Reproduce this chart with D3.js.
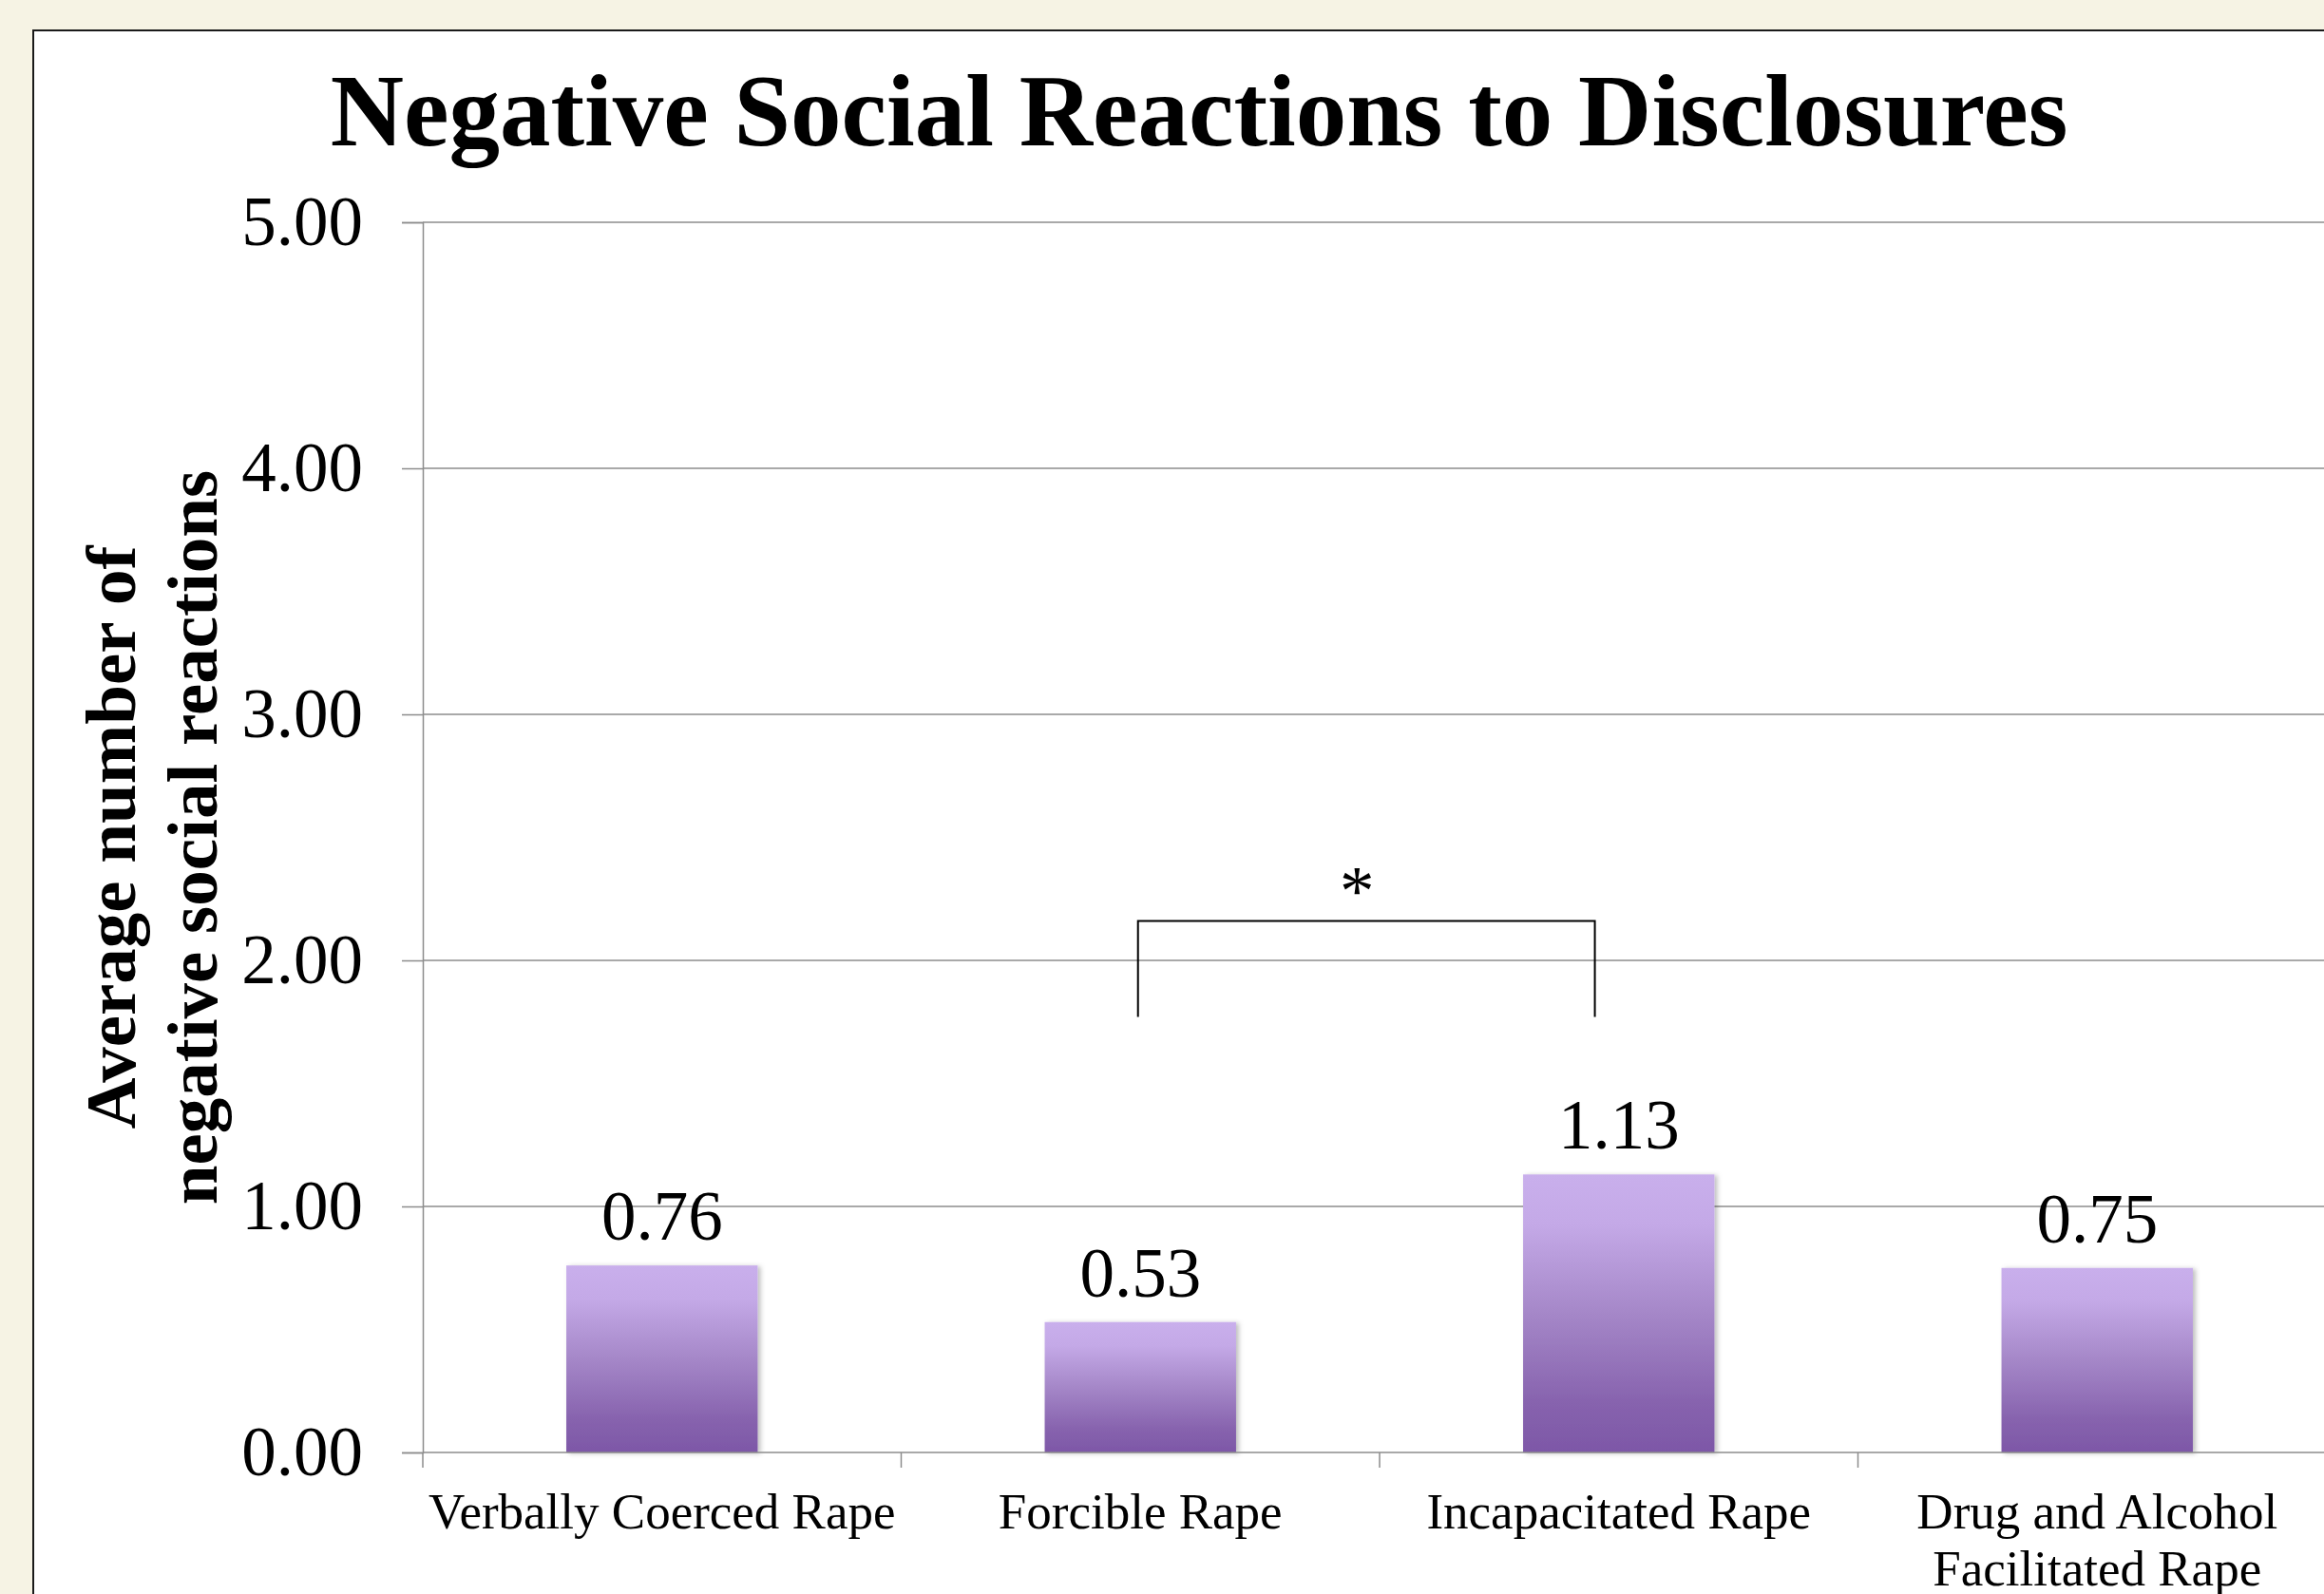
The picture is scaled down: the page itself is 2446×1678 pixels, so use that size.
<!DOCTYPE html>
<html>
<head>
<meta charset="utf-8">
<script src="https://cdn.jsdelivr.net/npm/d3@7"></script>
<style>
body{margin:0;background:#f6f3e4;}
svg{display:block;}
text{font-family:"Liberation Serif","Times New Roman",serif;fill:#000;}
</style>
</head>
<body>
<svg id="svg" width="2446" height="1678"></svg>
<script>
var categories=['Verbally Coerced Rape','Forcible Rape','Incapacitated Rape','Drug and Alcohol Facilitated Rape'];
var catLines=[['Verbally Coerced Rape'],['Forcible Rape'],['Incapacitated Rape'],['Drug and Alcohol','Facilitated Rape']];
var values=[0.76,0.53,1.13,0.75];
var yTicks=[0,1,2,3,4,5];
var sigPair=['Forcible Rape','Incapacitated Rape'];
var sigLevels=[1.77,2.16];
var sigLabel='*';

var svg=d3.select('#svg');

// chart box
svg.append('rect')
.attr('x',35).attr('y',32)
.attr('width',2600).attr('height',1800)
.attr('fill','#fff')
.attr('stroke','#1a1a1a')
.attr('stroke-width',2);

svg.append('text')
.attr('x',1262).attr('y',153)
.attr('text-anchor','middle')
.style('font-size','107px')
.style('font-weight','bold')
.text('Negative Social Reactions to Disclosures');

var left=445, bandW=503.5;
var xscale=d3.scaleBand()
.domain(categories)
.range([left,left+bandW*categories.length])
.padding(0);

var yscale=d3.scaleLinear()
.domain([0,5])
.range([1529,234]);

// gradient + shadow
var defs=svg.append('defs');
var grad=defs.append('linearGradient')
.attr('id','barGrad')
.attr('x1',0).attr('y1',0).attr('x2',0).attr('y2',1);
[['0%','#c9afec'],['18%','#c4a9e7'],['50%','#a587c8'],['82%','#8763ae'],['100%','#7d57a7']].forEach(function(s){
	grad.append('stop').attr('offset',s[0]).attr('stop-color',s[1]);
});
var f=defs.append('filter').attr('id','shadow')
.attr('x','-10%').attr('y','-10%').attr('width','130%').attr('height','120%');
f.append('feDropShadow')
.attr('dx',3).attr('dy',1)
.attr('stdDeviation',2.5)
.attr('flood-color','#000')
.attr('flood-opacity',0.25);

// gridlines
svg.append('g')
.selectAll('line').data(yTicks.filter(function(d){return d>0;})).enter()
.append('line')
.attr('x1',left).attr('x2',xscale.range()[1])
.attr('y1',function(d){return yscale(d);})
.attr('y2',function(d){return yscale(d);})
.attr('stroke','#8c8c8c')
.attr('stroke-width',1.5);

// y axis
var yaxis=svg.append('g')
.attr('transform','translate('+left+',0)')
.call(d3.axisLeft(yscale)
	.tickValues(yTicks)
	.tickFormat(d3.format('.2f'))
	.tickSize(22)
	.tickPadding(41));
yaxis.selectAll('line,path').attr('stroke','#8c8c8c').attr('stroke-width',1.5);
yaxis.selectAll('text')
.style('font-size','73px')
.style('font-family','"Liberation Serif","Times New Roman",serif')
.attr('fill','#000');

// bars
var barW=bandW*0.4;
svg.append('g')
.selectAll('rect').data(values).enter()
.append('rect')
.attr('x',function(d,i){return xscale(categories[i])+(bandW-barW)/2;})
.attr('y',function(d){return yscale(d);})
.attr('width',barW)
.attr('height',function(d){return yscale(0)-yscale(d);})
.attr('fill','url(#barGrad)')
.attr('filter','url(#shadow)');

// x axis
var xaxis=svg.append('g')
.attr('transform','translate(0,'+yscale(0)+')');
xaxis.append('line')
.attr('x1',left).attr('x2',xscale.range()[1])
.attr('stroke','#8c8c8c').attr('stroke-width',1.5);
xaxis.selectAll('.tk').data(categories).enter()
.append('line')
.attr('x1',function(d){return xscale(d);})
.attr('x2',function(d){return xscale(d);})
.attr('y1',0).attr('y2',16)
.attr('stroke','#8c8c8c').attr('stroke-width',1.5);

// category labels
svg.append('g')
.selectAll('text').data(catLines).enter()
.append('text')
.attr('text-anchor','middle')
.attr('x',function(d,i){return xscale(categories[i])+bandW/2;})
.attr('y',yscale(0)+80)
.style('font-size','53px')
.each(function(lines,i){
	var t=d3.select(this);
	lines.forEach(function(l,j){
		t.append('tspan')
		.attr('x',xscale(categories[i])+bandW/2)
		.attr('dy',j==0?0:60)
		.text(l);
	});
});

// value labels
svg.append('g')
.selectAll('text').data(values).enter()
.append('text')
.attr('text-anchor','middle')
.attr('x',function(d,i){return xscale(categories[i])+bandW/2;})
.attr('y',function(d){return yscale(d)-27;})
.style('font-size','73px')
.text(function(d){return d3.format('.2f')(d);});

// y axis title
var yt=svg.append('text')
.attr('transform','translate(142,'+((yscale(0)+yscale(5))/2)+') rotate(-90)')
.attr('text-anchor','middle')
.style('font-size','75px')
.style('font-weight','bold');
yt.append('tspan').attr('x',0).attr('y',0).text('Average number of');
yt.append('tspan').attr('x',0).attr('y',86).text('negative social reactions');

// significance bracket
var bx1=xscale(sigPair[0])+bandW*0.495;
var bx2=xscale(sigPair[1])+bandW*0.45;
svg.append('path')
.attr('d','M'+bx1+','+yscale(sigLevels[0])+'V'+yscale(sigLevels[1])+'H'+bx2+'V'+yscale(sigLevels[0]))
.attr('fill','none')
.attr('stroke','#000')
.attr('stroke-width',2);
svg.append('text')
.attr('x',(bx1+bx2)/2-10)
.attr('y',yscale(sigLevels[1])-7)
.attr('text-anchor','middle')
.style('font-size','73px')
.text(sigLabel);
</script>
</body>
</html>
